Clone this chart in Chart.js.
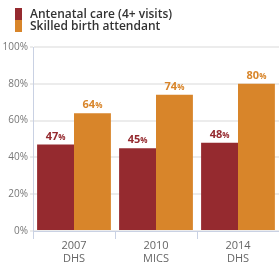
<!DOCTYPE html>
<html>
<head>
<meta charset="utf-8">
<script src="https://cdn.jsdelivr.net/npm/chart.js@4"></script>
<style>
  html, body { margin: 0; padding: 0; background: #fff; }
  #wrap { position: relative; width: 279px; height: 269px; }
  #legend { position: absolute; left: 15px; top: 8px; font-family: "Open Sans", "DejaVu Sans", sans-serif;
            font-size: 12px; font-weight: 600; color: #333; line-height: 12px; }
  #legend div { display: flex; align-items: center; height: 12px; }
  #legend span.sw { display: inline-block; width: 7px; height: 12px; margin-right: 8px; }
</style>
</head>
<body>
<div id="wrap">
  <canvas id="c" width="279" height="269"></canvas>
  <div id="legend"></div>
</div>
<script>
// ── Data ──────────────────────────────────────────────
const categories = [['2007', 'DHS'], ['2010', 'MICS'], ['2014', 'DHS']];
const seriesNames = ['Antenatal care (4+ visits)', 'Skilled birth attendant'];
const antenatal = [47, 45, 48];
const skilled = [64, 74, 80];
const yTicks = [0, 20, 40, 60, 80, 100];

const COLORS = ['#952a2f', '#d8852a'];

// legend
const legend = document.getElementById('legend');
seriesNames.forEach((name, i) => {
  const d = document.createElement('div');
  d.innerHTML = `<span class="sw" style="background:${COLORS[i]}"></span>${name}`;
  legend.appendChild(d);
});

// ── Value labels above bars ──────────────────────────
const valueLabels = {
  id: 'valueLabels',
  afterDatasetsDraw(chart) {
    const ctx = chart.ctx;
    chart.data.datasets.forEach((ds, di) => {
      chart.getDatasetMeta(di).data.forEach((bar, i) => {
        const num = String(ds.data[i]);
        ctx.save();
        ctx.fillStyle = COLORS[di];
        ctx.textBaseline = 'alphabetic';
        ctx.font = 'bold 11px "Open Sans", sans-serif';
        const w1 = ctx.measureText(num).width;
        ctx.font = 'bold 8px "Open Sans", sans-serif';
        const w2 = ctx.measureText('%').width;
        const x0 = bar.x - (w1 + w2) / 2;
        const y = bar.y - 5;
        ctx.font = 'bold 11px "Open Sans", sans-serif';
        ctx.fillText(num, x0, y);
        ctx.font = 'bold 8px "Open Sans", sans-serif';
        ctx.fillText('%', x0 + w1, y);
        ctx.restore();
      });
    });
  }
};

new Chart(document.getElementById('c'), {
  type: 'bar',
  data: {
    labels: categories,
    datasets: [
      { label: seriesNames[0], data: antenatal, backgroundColor: COLORS[0] },
      { label: seriesNames[1], data: skilled, backgroundColor: COLORS[1] },
    ],
  },
  options: {
    responsive: false,
    animation: false,
    layout: { padding: { top: 47, right: 0, left: 0, bottom: 0 } },
    datasets: { bar: { categoryPercentage: 0.9, barPercentage: 1.0 } },
    plugins: { legend: { display: false }, tooltip: { enabled: false } },
    scales: {
      x: {
        afterFit: s => { s.height = 38; },
        grid: { drawOnChartArea: false, offset: true, tickLength: 8, color: '#c9d1e3', lineWidth: 1 },
        border: { color: '#c9d1e3', width: 1 },
        ticks: { color: '#666', font: { family: '"Open Sans", sans-serif', size: 11, lineHeight: 1.2 },
                 padding: 0, maxRotation: 0 },
      },
      y: {
        min: 0, max: 100,
        afterBuildTicks: s => { s.ticks = yTicks.map(v => ({ value: v })); },
        afterFit: s => { s.width = 33; },
        grid: { color: '#ececec', lineWidth: 2, drawTicks: true, tickLength: 3 },
        border: { color: '#c9d1e3', width: 1 },
        ticks: { color: '#777', font: { family: '"Open Sans", sans-serif', size: 10 }, padding: 2,
                 callback: v => v + '%' },
      },
    },
  },
  plugins: [valueLabels],
});
</script>
</body>
</html>
